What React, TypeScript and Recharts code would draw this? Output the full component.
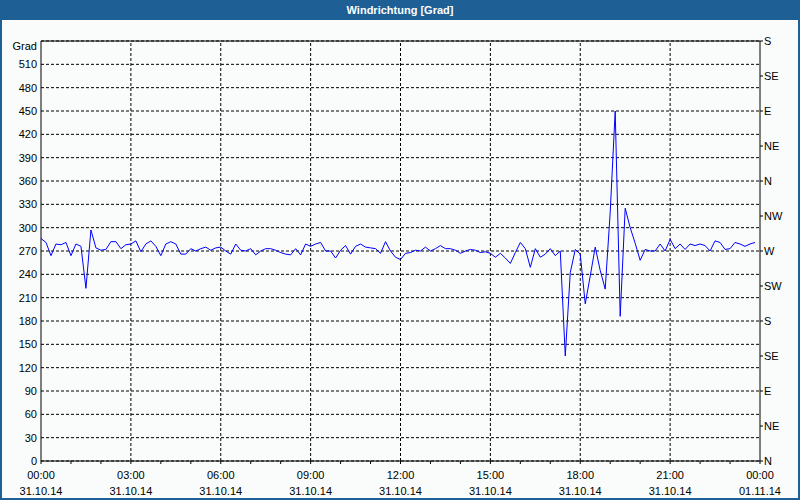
import { LineChart, Line, XAxis, YAxis, CartesianGrid, ReferenceLine } from 'recharts';

// wind direction every 10 minutes, 31.10.14 00:00 .. 23:50
const directions = [
    286, 281, 264, 279, 278, 281, 264, 279, 276, 222, 297, 274,
    271, 272, 282, 282, 273, 278, 279, 283, 269, 279, 283, 276,
    264, 279, 282, 279, 266, 266, 273, 270, 273, 275, 271, 274,
    275, 270, 266, 279, 271, 270, 273, 265, 270, 273, 273, 271,
    268, 266, 265, 273, 265, 279, 276, 279, 281, 270, 270, 261,
    271, 277, 266, 276, 279, 275, 274, 273, 267, 282, 270, 262,
    259, 267, 268, 271, 270, 275, 270, 273, 277, 273, 273, 271,
    267, 270, 272, 271, 268, 269, 267, 262, 267, 261, 254, 268,
    281, 273, 249, 273, 262, 266, 273, 264, 270, 135, 242, 272,
    266, 202, 238, 275, 245, 221, 320, 450, 186, 325, 300, 280,
    258, 272, 270, 270, 279, 270, 285, 273, 279, 272, 279, 277,
    279, 277, 270, 283, 281, 272, 273, 281, 279, 276, 279, 281,
];

const hourTicks = [0, 1, 2, 3, 4, 5, 6, 7, 8, 9, 10, 11, 12, 13, 14, 15, 16, 17, 18, 19, 20, 21, 22, 23, 24];
const majorHours = [3, 6, 9, 12, 15, 18, 21];
const timeLabels = ['00:00', '03:00', '06:00', '09:00', '12:00', '15:00', '18:00', '21:00', '00:00'];
const dateLabels = ['31.10.14', '31.10.14', '31.10.14', '31.10.14', '31.10.14', '31.10.14', '31.10.14', '31.10.14', '01.11.14'];

const gradTicks = [0, 30, 60, 90, 120, 150, 180, 210, 240, 270, 300, 330, 360, 390, 420, 450, 480, 510, 540];
const compassTicks = [0, 45, 90, 135, 180, 225, 270, 315, 360, 405, 450, 495, 540];
const compassNames = ['N', 'NE', 'E', 'SE', 'S', 'SW', 'W', 'NW'];

const data = directions.map((v, i) => ({ t: i / 6, v }));

const FONT = '"Liberation Sans", Arial, sans-serif';

function TimeTick(props: any) {
    const { x, y, payload } = props;
    const h = payload.value;
    if (h % 3 !== 0) return null;
    const k = h / 3;
    return (
        <g>
            <text x={x} y={y + 13} textAnchor="middle" fontSize={11} fontFamily={FONT} fill="#000">{timeLabels[k]}</text>
            <text x={x} y={y + 29} textAnchor="middle" fontSize={11} fontFamily={FONT} fill="#000">{dateLabels[k]}</text>
        </g>
    );
}

function CompassTick(props: any) {
    const { x, y, payload } = props;
    return (
        <text x={x} y={y} dy="0.355em" textAnchor="start" fontSize={11} fontFamily={FONT} fill="#000">
            {compassNames[(payload.value / 45) % 8]}
        </text>
    );
}

export default function App() {
    return (
        <div style={{ position: 'absolute', left: 0, top: 0, width: 800, height: 500, background: '#f9fcfa', fontFamily: FONT }}>
            <div style={{ position: 'absolute', left: 0, top: 0, width: 800, height: 20, background: '#1e6096', color: '#fff', fontWeight: 'bold', fontSize: 11, lineHeight: '20px', textAlign: 'center', fontFamily: '"Liberation Sans Narrow", "Liberation Sans", Arial, sans-serif' }}>
                Windrichtung [Grad]
            </div>
            <div style={{ position: 'absolute', left: 0, top: 39, width: 37, textAlign: 'right', fontSize: 11, lineHeight: '14px', color: '#000' }}>Grad</div>
            <div style={{ position: 'absolute', left: 0, top: 0 }}>
                <LineChart width={800} height={500} data={data} margin={{ top: 41, right: 0, bottom: 0, left: 0 }}>
                    <CartesianGrid yAxisId="l" vertical={false} stroke="#000" strokeDasharray="3 2" />
                    <XAxis
                        dataKey="t"
                        type="number"
                        domain={[0, 24]}
                        ticks={hourTicks}
                        interval={0}
                        height={39}
                        tickSize={3}
                        axisLine={{ stroke: '#000' }}
                        tickLine={{ stroke: '#000' }}
                        tick={<TimeTick />}
                    />
                    <YAxis
                        yAxisId="l"
                        domain={[0, 540]}
                        ticks={gradTicks}
                        interval={0}
                        width={41}
                        tickSize={0}
                        tickMargin={4}
                        tickLine={false}
                        axisLine={{ stroke: '#000' }}
                        tick={{ fill: '#000', fontSize: 11, fontFamily: FONT }}
                        tickFormatter={(v: number) => (v === 540 ? '' : String(v))}
                    />
                    <YAxis
                        yAxisId="r"
                        orientation="right"
                        type="number"
                        domain={[0, 540]}
                        ticks={compassTicks}
                        interval={0}
                        width={40}
                        tickSize={3}
                        tickMargin={1}
                        axisLine={{ stroke: '#000' }}
                        tickLine={{ stroke: '#000' }}
                        tick={<CompassTick />}
                    />
                    {majorHours.map((h) => (
                        <ReferenceLine key={h} x={h} yAxisId="l" stroke="#000" strokeDasharray="3 2" />
                    ))}
                    <ReferenceLine y={540} yAxisId="l" stroke="#000" />
                    <Line
                        yAxisId="r"
                        type="linear"
                        dataKey="v"
                        stroke="none"
                        dot={false}
                        activeDot={false}
                        legendType="none"
                        isAnimationActive={false}
                    />
                    <Line
                        yAxisId="l"
                        type="linear"
                        dataKey="v"
                        stroke="#0000ff"
                        strokeWidth={1}
                        dot={false}
                        isAnimationActive={false}
                    />
                </LineChart>
            </div>
            <div style={{ position: 'absolute', left: 0, top: 0, width: 800, height: 500, boxSizing: 'border-box', borderLeft: '2px solid #1e6096', borderRight: '2px solid #1e6096', borderBottom: '2px solid #1e6096', pointerEvents: 'none' }} />
        </div>
    );
}
